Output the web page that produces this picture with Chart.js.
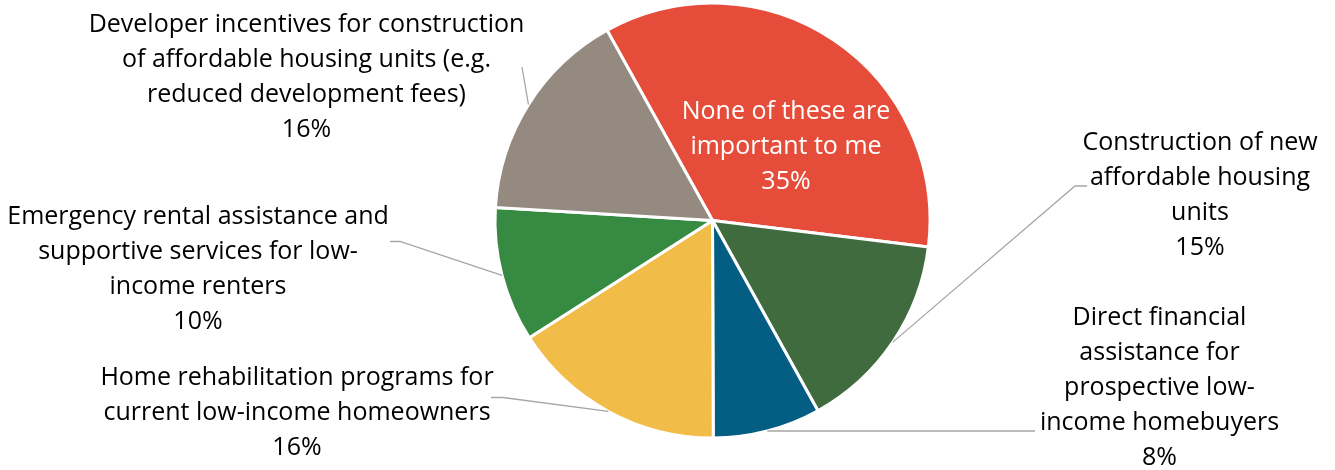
<!DOCTYPE html>
<html>
<head>
<meta charset="utf-8">
<script src="https://cdn.jsdelivr.net/npm/chart.js@4.4.0/dist/chart.umd.min.js"></script>
<style>
  html, body { margin: 0; padding: 0; background: #fff; }
</style>
</head>
<body>
<canvas id="chart" width="1335" height="470"></canvas>
<script>
// survey answers, clockwise from the top-left
const categories = [
  ['None of these are', 'important to me'],
  ['Construction of new', 'affordable housing', 'units'],
  ['Direct financial', 'assistance for', 'prospective low-', 'income homebuyers'],
  ['Home rehabilitation programs for', 'current low-income homeowners'],
  ['Emergency rental assistance and', 'supportive services for low-', 'income renters'],
  ['Developer incentives for construction', 'of affordable housing units (e.g.', 'reduced development fees)']
];
const shares = [35, 15, 8, 16, 10, 16];
const sliceColors = ['#E54D3A', '#3F6B3E', '#045E84', '#F2BC48', '#368A42', '#958A80'];

// where each label block sits, and the bends of its leader line
const labelSpots = [
  { x: 786, y: 147, color: '#fff' },
  { x: 1200, y: 195.5, color: '#000', leader: [[1075, 186], [1087, 186]] },
  { x: 1159.5, y: 387.5, color: '#000', leader: [[1035, 431]] },
  { x: 297, y: 413.3, color: '#000', leader: [[503, 397.5], [491, 397.5]] },
  { x: 198, y: 269.2, color: '#000', leader: [[400, 241.5], [390, 241.5]] },
  { x: 306.5, y: 77, color: '#000', leader: [[522, 67]] }
];
const FONT_SIZE = 25;
const LINE_H = 35;

const sliceLabels = {
  id: 'sliceLabels',
  afterDatasetsDraw(chart) {
    const ctx = chart.ctx;
    const arcs = chart.getDatasetMeta(0).data;
    ctx.save();
    ctx.font = FONT_SIZE + 'px "Open Sans"';
    ctx.textAlign = 'center';
    ctx.textBaseline = 'middle';
    arcs.forEach((arc, i) => {
      const spot = labelSpots[i];
      const lines = categories[i].concat(shares[i] + '%');
      if (spot.leader) {
        const mid = (arc.startAngle + arc.endAngle) / 2;
        ctx.beginPath();
        ctx.moveTo(arc.x + Math.cos(mid) * arc.outerRadius, arc.y + Math.sin(mid) * arc.outerRadius);
        spot.leader.forEach(p => ctx.lineTo(p[0], p[1]));
        ctx.strokeStyle = '#A6A6A6';
        ctx.lineWidth = 1.3;
        ctx.stroke();
      }
      ctx.fillStyle = spot.color;
      const top = spot.y - (lines.length - 1) * LINE_H / 2;
      lines.forEach((t, k) => ctx.fillText(t, spot.x, top + k * LINE_H));
    });
    ctx.restore();
  }
};

new Chart(document.getElementById('chart'), {
  type: 'pie',
  data: {
    labels: categories,
    datasets: [{
      data: shares,
      backgroundColor: sliceColors,
      borderColor: '#fff',
      borderWidth: 3
    }]
  },
  options: {
    responsive: false,
    animation: false,
    devicePixelRatio: 1,
    rotation: -29,
    radius: 217.5,
    layout: { padding: { left: 495, right: 405, top: 3, bottom: 32 } },
    plugins: {
      legend: { display: false },
      tooltip: { enabled: false }
    }
  },
  plugins: [sliceLabels]
});
</script>
</body>
</html>
